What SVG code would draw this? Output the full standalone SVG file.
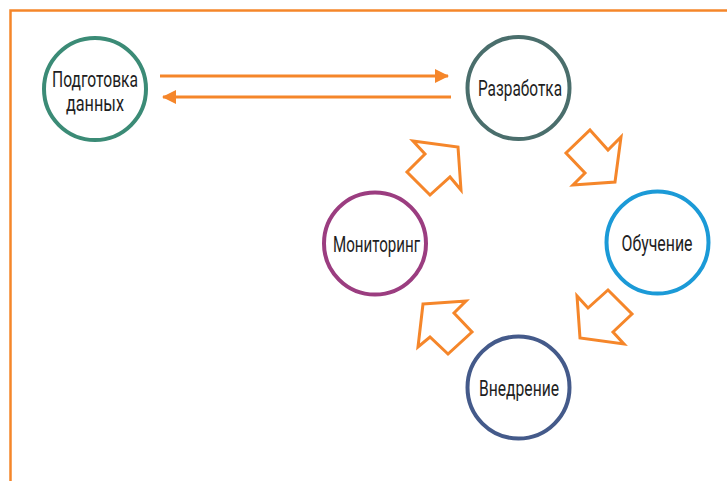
<svg xmlns="http://www.w3.org/2000/svg" width="727" height="481" viewBox="0 0 727 481">
<defs>
<style>
.node{fill:#fff;stroke-width:4}
.lbl{font-family:Roboto,"Liberation Sans",sans-serif;font-size:22px;fill:#1e1e1e;text-anchor:middle}
.conn{stroke:#f5862a;stroke-width:3;fill:none}
.blk{fill:#fff;stroke:#f5862a;stroke-width:3;stroke-linejoin:miter}
</style>
<marker id="ah" viewBox="0 0 14 14" refX="13" refY="7" markerWidth="14" markerHeight="14" markerUnits="userSpaceOnUse" orient="auto">
<path d="M0,0 L14,7 L0,14 Z" fill="#f5862a"/>
</marker>
</defs>
<rect width="727" height="481" fill="#fff"/>
<rect x="10.5" y="10.5" width="800" height="600" fill="none" stroke="#f5862a" stroke-width="2.5"/>
<g id="connectors">
<line class="conn" x1="160" y1="76" x2="448" y2="76" marker-end="url(#ah)"/>
<line class="conn" x1="451" y1="97" x2="163" y2="97" marker-end="url(#ah)"/>
<polygon class="blk" points="413,141 458,147 461,190 450,177 430,195 407,172 425,154"/>
<polygon class="blk" points="590,130 608,150 621,137 615,182 573,185 585,173 566,153"/>
<polygon class="blk" points="608,290 632,314 613,332 624,344 580,338 577,296 588,308"/>
<polygon class="blk" points="423,304 466,301 454,313 472,332 448,354 430,337 418,347"/>
</g>
<g id="node-prep">
<circle class="node" cx="95" cy="89" r="51" stroke="#3b8b76"/>
<text class="lbl" x="95" y="86.5" textLength="86" lengthAdjust="spacingAndGlyphs">Подготовка</text>
<text class="lbl" x="95" y="111" textLength="58" lengthAdjust="spacingAndGlyphs">данных</text>
</g>
<g id="node-dev">
<circle class="node" cx="518.5" cy="88" r="51" stroke="#4a6e6c"/>
<text class="lbl" x="520" y="96" textLength="84" lengthAdjust="spacingAndGlyphs">Разработка</text>
</g>
<g id="node-train">
<circle class="node" cx="657.5" cy="242.5" r="51" stroke="#1b9ad7"/>
<text class="lbl" x="657" y="251" textLength="71" lengthAdjust="spacingAndGlyphs">Обучение</text>
</g>
<g id="node-mon">
<circle class="node" cx="375" cy="243.5" r="51" stroke="#9b3d80"/>
<text class="lbl" x="376.5" y="251.5" textLength="87" lengthAdjust="spacingAndGlyphs">Мониторинг</text>
</g>
<g id="node-deploy">
<circle class="node" cx="518.5" cy="387.5" r="51" stroke="#445a8a"/>
<text class="lbl" x="519" y="396" textLength="80" lengthAdjust="spacingAndGlyphs">Внедрение</text>
</g>
</svg>
